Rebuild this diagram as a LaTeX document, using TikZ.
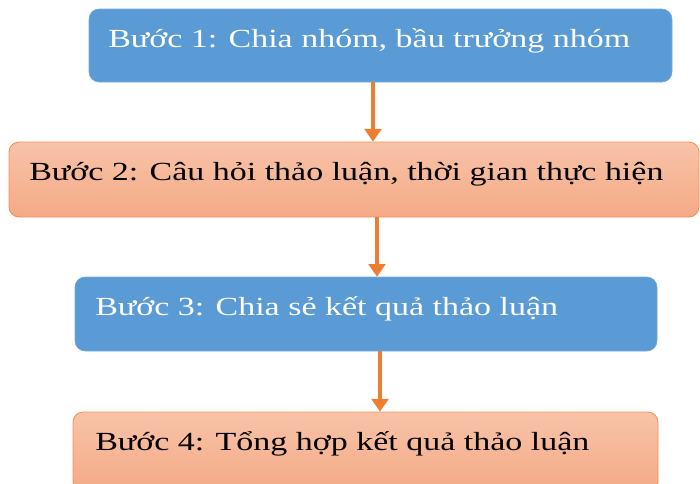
\documentclass[tikz,border=0pt]{standalone}
\usepackage{graphicx}
\usepackage{fontspec}
\setmainfont{Liberation Serif}
\usetikzlibrary{arrows.meta}

\definecolor{stepblue}{HTML}{5B9BD5}
\definecolor{steporange}{HTML}{ED7D31}
\definecolor{peachtop}{HTML}{F8C3A8}
\definecolor{peachbot}{HTML}{F4AA86}

\newcommand{\widetext}[1]{\scalebox{1.3}[1]{#1}}

\tikzset{
    bluebox/.style={rectangle, rounded corners=7.5pt, fill=stepblue, draw=stepblue!85!white, line width=0.4pt},
    peachbox/.style={rectangle, rounded corners=7.5pt, top color=peachtop, bottom color=peachbot, draw=steporange!85!white, line width=0.6pt},
    steptext/.style={anchor=base west, inner sep=0pt, font=\fontsize{19.6}{22}\selectfont},
    flow/.style={draw=steporange, line width=3.4pt, -{Triangle[width=12.5pt,length=9.5pt]}}
}

\begin{document}
\begin{tikzpicture}[x=0.75pt, y=-0.75pt]
            \useasboundingbox (0,0) rectangle (700,483);
            \clip (0,0) rectangle (700,483);

            \node[bluebox, minimum width=437.25pt, minimum height=54.75pt] (b1) at (380.5,45.5) {};
            \node[peachbox, minimum width=517.5pt, minimum height=56.25pt] (b2) at (354,179.5) {};
            \node[bluebox, minimum width=436.5pt, minimum height=55.5pt] (b3) at (366,314) {};
            \node[peachbox, minimum width=438.75pt, minimum height=60pt] (b4) at (365.5,452) {};

            \node[steptext, text=white] (t1) at (108,47) {\widetext{Bước 1: Chia nhóm, bầu trưởng nhóm}};
            \node[steptext, text=black] (t2) at (29,180) {\widetext{Bước 2: Câu hỏi thảo luận, thời gian thực hiện}};
            \node[steptext, text=white] (t3) at (95,315) {\widetext{Bước 3: Chia sẻ kết quả thảo luận}};
            \node[steptext, text=black] (t4) at (95,450) {\widetext{Bước 4: Tổng hợp kết quả thảo luận}};

            \draw[flow] (b1.south -| 373,0) -- (b2.north -| 373,0);
            \draw[flow] (b2.south -| 377,0) -- (b3.north -| 377,0);
            \draw[flow] (b3.south -| 380,0) -- (b4.north -| 380,0);
        \end{tikzpicture}
\end{document}
